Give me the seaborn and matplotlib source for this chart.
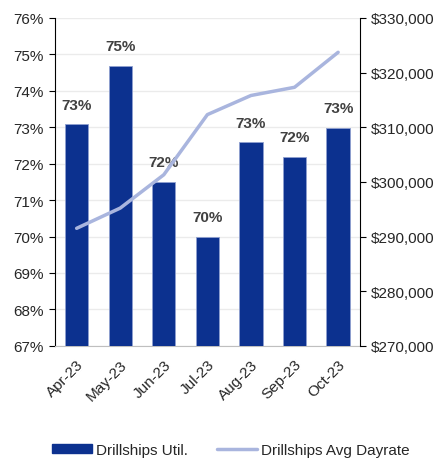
import matplotlib
matplotlib.use("Agg")
import matplotlib.pyplot as plt
import matplotlib.ticker as mticker
from matplotlib.lines import Line2D
from matplotlib.patches import Patch
import seaborn as sns
import pandas as pd

months = ["Apr-23", "May-23", "Jun-23", "Jul-23", "Aug-23", "Sep-23", "Oct-23"]
utilization = [73.08, 74.68, 71.5, 69.98, 72.58, 72.18, 72.98]
util_labels = ["73%", "75%", "72%", "70%", "73%", "72%", "73%"]
dayrate = [291500, 295200, 301300, 312300, 315800, 317300, 323700]

sns.set_theme(style="white")
plt.rcParams['font.family'] = ['Liberation Sans', 'DejaVu Sans']

bar_color = "#0C318F"
line_color = "#A9B5DE"
text_color = "#262626"

df = pd.DataFrame({"month": months, "util": utilization, "rate": dayrate})

fig = plt.figure(figsize=(4.46, 4.6), dpi=100)
ax = fig.add_axes([0.123, 0.246, 0.684, 0.713])

sns.barplot(data=df, x="month", y="util", color=bar_color, width=0.535,
            edgecolor="#8FA0D0", linewidth=0.6, saturation=1, ax=ax, zorder=3)
ax.set_ylim(67, 76)
ax.set_xlim(-0.5, 6.5)
ax.yaxis.set_major_locator(mticker.MultipleLocator(1))
ax.yaxis.set_major_formatter(mticker.FuncFormatter(lambda v, p: f"{v:.0f}%"))
ax.grid(axis="y", color="#EBEBEB", linewidth=1.0, zorder=0)
ax.set_axisbelow(True)
ax.set_xlabel("")
ax.set_ylabel("")

for i, (v, lab) in enumerate(zip(utilization, util_labels)):
    ax.text(i, v + 0.35, lab, ha="center", va="bottom", fontsize=11,
            fontweight="bold", color="#404040", zorder=5)

ax.set_xticks(range(len(months)))
ax.set_xticklabels(months, rotation=45, ha="right", rotation_mode="anchor",
                   fontsize=11, color=text_color)
ax.tick_params(axis="x", length=0, pad=8)
ax.set_xticks([i + 0.5 for i in range(-1, len(months))], minor=True)
ax.tick_params(axis="x", which="minor", length=4, color="#BFBFBF", width=0.8)
ax.tick_params(axis="y", labelsize=11, labelcolor=text_color, length=4,
               width=0.8, color="#000000", left=True, pad=4)

for s in ["top", "right"]:
    ax.spines[s].set_visible(False)
ax.spines["left"].set_color("#000000")
ax.spines["left"].set_linewidth(0.8)
ax.spines["bottom"].set_color("#BFBFBF")
ax.spines["bottom"].set_linewidth(0.8)

ax2 = ax.twinx()
sns.lineplot(data=df, x="month", y="rate", color=line_color, linewidth=2.5,
             ax=ax2, sort=False, zorder=4)
ax2.set_ylim(270000, 330000)
ax2.yaxis.set_major_locator(mticker.MultipleLocator(10000))
ax2.yaxis.set_major_formatter(mticker.FuncFormatter(lambda v, p: f"${v:,.0f}"))
ax2.tick_params(axis="y", labelsize=11, labelcolor=text_color, length=4,
                width=0.8, color="#000000", right=True, pad=4)
ax2.set_ylabel("")
ax2.set_xlabel("")
for s in ["top", "left", "bottom"]:
    ax2.spines[s].set_visible(False)
ax2.spines["right"].set_color("#000000")
ax2.spines["right"].set_linewidth(0.8)
ax2.set_xlim(-0.5, 6.5)

handles = [Patch(facecolor=bar_color, edgecolor=bar_color),
           Line2D([0], [0], color=line_color, linewidth=2.5)]
fig.legend(handles, ["Drillships Util.", "Drillships Avg Dayrate"],
           loc="center", bbox_to_anchor=(0.518, 0.02), ncol=2, frameon=False,
           fontsize=11, handlelength=2.6, handleheight=0.5, columnspacing=1.9,
           handletextpad=0.3, labelcolor=text_color)

fig.savefig("out.png", dpi=100)
